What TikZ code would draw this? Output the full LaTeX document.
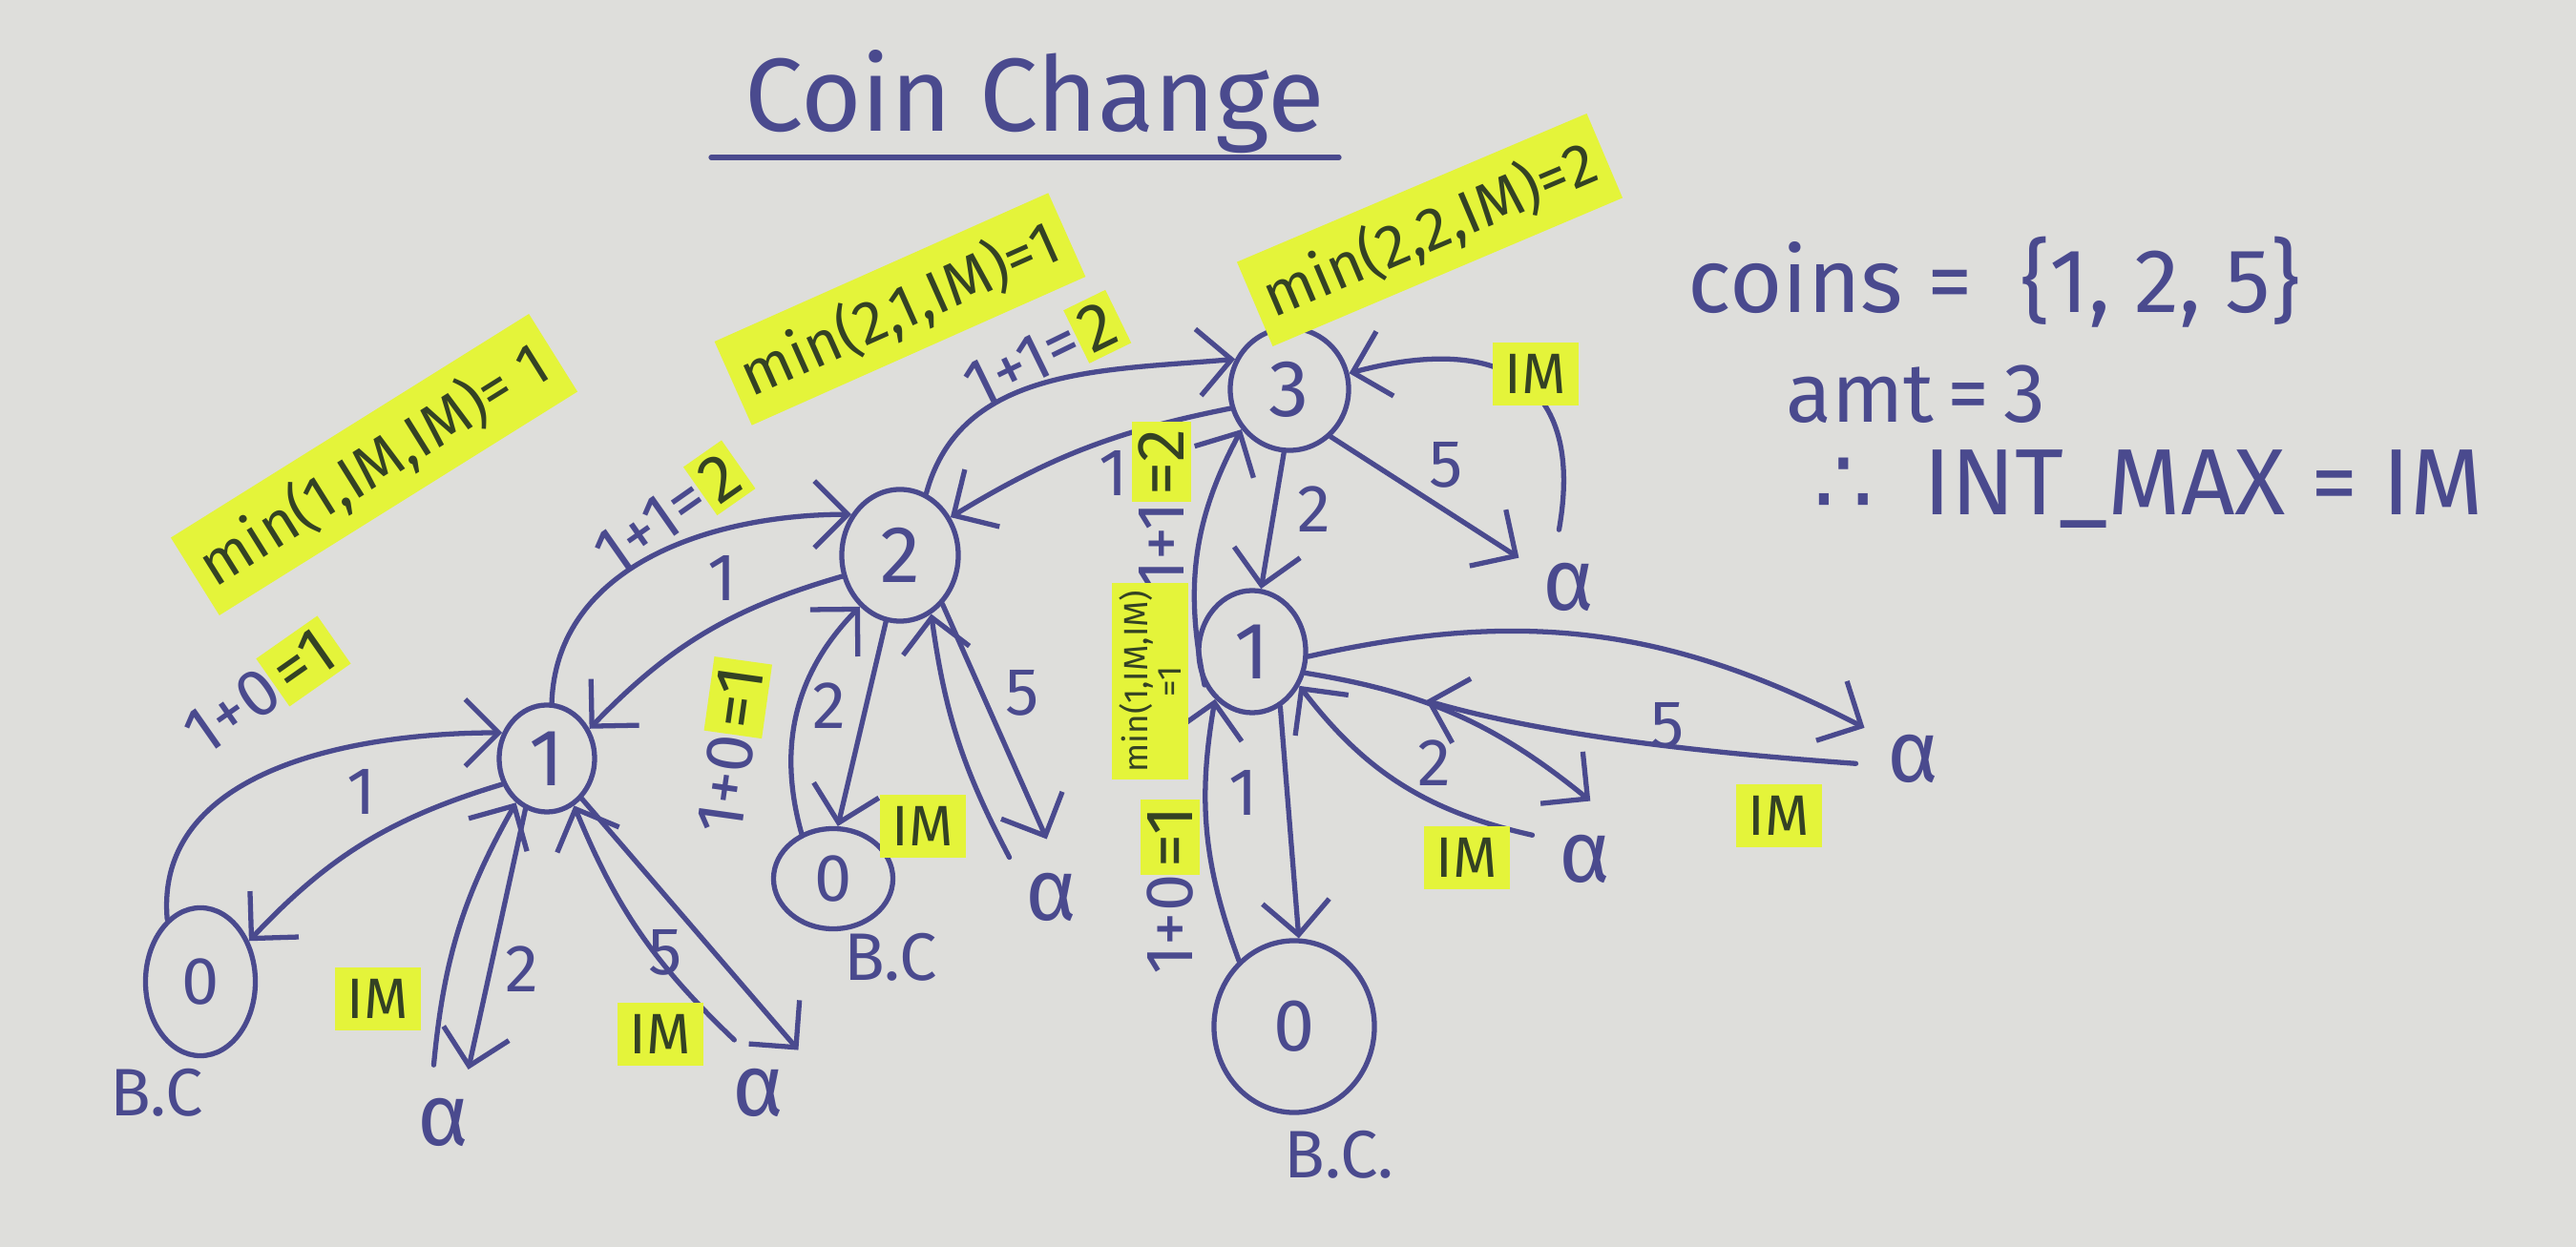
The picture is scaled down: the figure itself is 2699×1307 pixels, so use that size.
\documentclass[tikz,border=0pt]{standalone}
\usepackage{fontspec}
\setmainfont{Fira Sans}
\newfontfamily\symfont{DejaVu Sans}
\usetikzlibrary{arrows.meta,shapes.geometric}

\definecolor{ink}{RGB}{74,74,142}
\definecolor{hl}{RGB}{228,244,58}
\definecolor{hltext}{RGB}{52,66,36}
\definecolor{paper}{RGB}{222,222,219}

\newcommand{\fsz}[1]{\fontsize{#1}{#1}\selectfont}
\newcommand{\hlt}[1]{{\setlength{\fboxsep}{2pt}\colorbox{hl}{\color{hltext}#1}}}

\tikzset{
  pen/.style={draw=ink, line width=1.5pt, line cap=round},
  arr/.style={pen, -{Straight Barb[length=3.5mm,width=7mm]}},
  statenode/.style={ellipse, draw=ink, line width=1.5pt, inner sep=0pt, text=ink, font=\fsz{24}},
  leaf/.style={circle, inner sep=0pt, minimum size=1.2cm, text=ink, font=\fsz{26}},
  lbl/.style={text=ink, font=\fsz{20}, inner sep=1pt},
  hlbox/.style={fill=hl, text=hltext, inner xsep=0.13cm, inner ysep=0.12cm, font=\fsz{17}},
  minbox/.style={fill=hl, text=hltext, inner xsep=0.12cm, inner ysep=0.16cm, font=\fsz{18}},
  bigtext/.style={text=ink, font=\fsz{27}, anchor=west},
  bc/.style={text=ink, font=\fsz{20}},
}

\begin{document}
\begin{tikzpicture}[x=0.01cm, y=0.01cm]
  % paper
  \fill[paper] (0,0) rectangle (2699,-1307);
  \useasboundingbox (0,0) rectangle (2699,-1307);

  % title
  \node[text=ink, font=\fsz{31}] (title) at (1084,-107) {Coin Change};
  \coordinate (ulL) at (745,-165);
  \coordinate (ulR) at (1403,-165);
  \draw[pen] (ulL) -- (ulR);

  % recursion tree nodes (remaining amount)
  \node[statenode, minimum width=1.15cm, minimum height=1.55cm, font=\fsz{20}] (A) at (210,-1029) {0};
  \node[statenode, minimum width=1.0cm, minimum height=1.12cm] (B) at (573,-795) {1};
  \node[statenode, minimum width=1.22cm, minimum height=1.38cm] (C) at (943,-582) {2};
  \node[statenode, minimum width=1.25cm, minimum height=1.05cm, font=\fsz{20}] (D) at (873,-921) {0};
  \node[statenode, minimum width=1.24cm, minimum height=1.28cm] (E) at (1351,-408) {3};
  \node[statenode, minimum width=1.12cm, minimum height=1.28cm] (F) at (1312,-683) {1};
  \node[statenode, minimum width=1.68cm, minimum height=1.8cm, font=\fsz{22}] (G) at (1356,-1076) {0};

  % base-case tags
  \node[bc] (bc1) at (164,-1145) {B.C};
  \node[bc] (bc2) at (933,-1003) {B.C};
  \node[bc] (bc3) at (1403,-1210) {B.C.};

  % negative amounts
  \node[leaf] (a1) at (465,-1176) {α};
  \node[leaf] (a2) at (795,-1145) {α};
  \node[leaf] (a3) at (1102,-940) {α};
  \node[leaf] (a4) at (1644,-615) {α};
  \node[leaf] (a5) at (1661,-900) {α};
  \node[leaf] (a6) at (2005,-795) {α};

  % calls from 1 (left)
  \draw[arr] (B.210) to[bend right=15] (A.40);
  \draw[arr] (A.118) to[out=95,in=180] (B.150);
  \draw[arr] (B.247) -- (a1.65);
  \draw[arr] (a1.100) to[bend left=12] (B.235);
  \draw[arr] (B.311) -- (a2.47);
  \draw[arr] (a2.115) to[bend left=12] (B.300);

  % calls from 2
  \draw[arr] (B.85) to[out=88,in=180] (C.140);
  \draw[arr] (C.200) to[bend right=15] (B.35);
  \draw[arr] (C.258) -- (D.85);
  \draw[arr] (D.125) to[bend left=30] (C.232);
  \draw[arr] (C.311) -- (a3.95);
  \draw[arr] (a3.137) to[bend left=10] (C.298);

  % calls from 3
  \draw[arr] (C.67) to[out=75,in=185] (E.151);
  \draw[arr] (E.198) to[bend right=10] (C.37);
  \draw[arr] (E.265) -- (F.82);
  \draw[arr] (F.215) to[bend left=20] (E.220);
  \draw[arr] (E.311) -- (a4.150);
  \draw[arr] (a4.100) to[out=80,in=15,looseness=1.5] (E.15);

  % calls from 1 (right)
  \draw[arr] (F.297) -- (G.87);
  \draw[arr] (G.130) to[bend left=15] (F.232);
  \draw[arr] (F.338) to[bend left=15] (a5.85);
  \draw[arr] (a5.156) to[bend left=20] (F.324);
  \draw[arr] (F.355) to[bend left=20] (a6.148);
  \draw[arr, shorten >=1.3cm] (a6.185) to[bend left=6] (F.345);

  % edge labels
  \node[lbl] (lba) at (379,-830) {1};
  \node[lbl, rotate=35] (lab) at (275,-723) {1+0\hlt{=1}};
  \node[lbl] (lb1) at (547,-1016) {2};
  \node[hlbox] (hb1) at (396,-1047) {IM};
  \node[lbl] (lb2) at (697,-998) {5};
  \node[hlbox] (hb2) at (692,-1084) {IM};
  \node[lbl, rotate=35] (lbc) at (702,-537) {1+1=\hlt{2}};
  \node[lbl] (lcb) at (757,-606) {1};
  \node[lbl] (lcd) at (869,-740) {2};
  \node[lbl, rotate=82] (ldc) at (766,-783) {1+0\hlt{=1}};
  \node[lbl] (lc3) at (1071,-726) {5};
  \node[hlbox] (hc3) at (967,-866) {IM};
  \node[lbl, rotate=26] (lce) at (1093,-370) {1+1=\hlt{2}};
  \node[lbl] (lec) at (1167,-496) {1};
  \node[lbl] (lef) at (1377,-534) {2};
  \node[lbl, rotate=90] (lfe) at (1217,-530) {1+1\hlt{=2}};
  \node[lbl] (le4) at (1515,-487) {5};
  \node[hlbox] (he4) at (1609,-392) {IM};
  \node[lbl] (lfg) at (1303,-831) {1};
  \node[lbl, rotate=90] (lgf) at (1226,-930) {1+0\hlt{=1}};
  \node[lbl] (lf5) at (1503,-800) {2};
  \node[hlbox] (hf5) at (1537,-899) {IM};
  \node[lbl] (lf6) at (1747,-760) {5};
  \node[hlbox] (hf6) at (1864,-855) {IM};

  % minimum of the branches
  \node[minbox, rotate=32] (m1) at (392,-487) {min(1,IM,IM)= 1};
  \node[minbox, rotate=24] (m2) at (943,-324) {min(2,1,IM)=1};
  \node[minbox, rotate=23] (m3) at (1498,-241) {min(2,2,IM)=2};
  \node[hlbox, rotate=90, font=\fsz{10}, inner sep=0.08cm, align=center] (m4) at (1205,-714) {min(1,IM,IM)\\=1};

  % problem statement
  \node[bigtext] (coins) at (1756,-296) {coins =\ \ \{1,\ 2,\ 5\}};
  \node[bigtext, font=\fsz{25}] (amt) at (1859,-413) {amt\,=\,3};
  \node[bigtext, font=\fsz{28}] (imax) at (1888,-513) {{\symfont ∴}\ \ INT\_MAX\ =\ IM};
\end{tikzpicture}
\end{document}
